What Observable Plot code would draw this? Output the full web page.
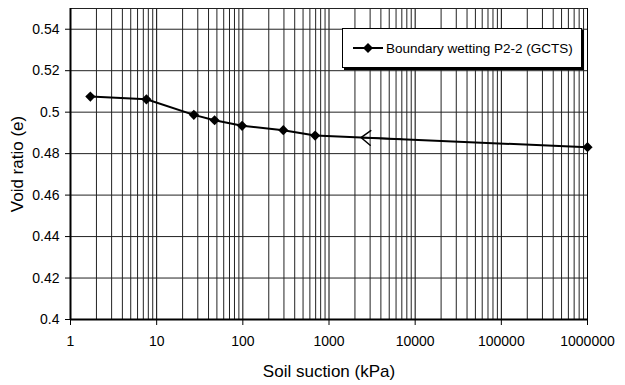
<!DOCTYPE html>
<html>
<head>
<meta charset="utf-8">
<script src="https://cdn.jsdelivr.net/npm/d3@7"></script>
<script src="https://cdn.jsdelivr.net/npm/@observablehq/plot@0.6"></script>
<style>
  html, body { margin: 0; padding: 0; background: #fff; }
  #wrap { position: relative; width: 625px; height: 385px; font-family: "Liberation Sans", Arial, sans-serif; }
  #legend {
    position: absolute; left: 342px; top: 28px; width: 238px; height: 38px;
    background: #fff; border: 1px solid #000;
    box-shadow: 2px 2px 0 #000;
    display: flex; align-items: center; font-size: 13.5px; color: #000;
    white-space: nowrap; overflow: hidden;
  }
  #legend svg { margin-left: 10px; margin-right: 3px; flex: none; }
</style>
</head>
<body>
<div id="wrap"></div>
<script>
// Data
const suction = [1.7, 7.6, 27, 47, 98, 295, 690, 1000000];
const voidRatio = [0.5075, 0.5062, 0.4987, 0.4961, 0.4934, 0.4913, 0.4887, 0.4831];
const seriesName = "Boundary wetting P2-2 (GCTS)";
// direction arrow on the line (from -> to)
const arrowFrom = {x: 7000, y: 0.48692};
const arrowTo = {x: 2350, y: 0.48776};

const xTicks = [1, 10, 100, 1000, 10000, 100000, 1000000];
const yTicks = [0.4, 0.42, 0.44, 0.46, 0.48, 0.5, 0.52, 0.54];

const data = suction.map((x, i) => ({x, y: voidRatio[i]}));
const xMinor = [];
for (let d = 1; d < 1e6; d *= 10) for (let k = 2; k <= 9; k++) xMinor.push(d * k);
const yGrid = [...yTicks, 0.55];

const chart = Plot.plot({
  width: 625,
  height: 385,
  marginLeft: 70,
  marginRight: 38,
  marginTop: 8,
  marginBottom: 66,
  style: {fontFamily: "Liberation Sans, Arial, sans-serif", fontSize: "14px", color: "#000", background: "#fff"},
  x: {type: "log", domain: [1, 1e6]},
  y: {domain: [0.4, 0.55]},
  marks: [
    Plot.ruleX(xMinor, {stroke: "#222", strokeWidth: 1}),
    Plot.ruleX(xTicks, {stroke: "#000", strokeWidth: 1}),
    Plot.ruleY(yGrid, {stroke: "#222", strokeWidth: 1}),
    Plot.ruleX([1], {stroke: "#000", strokeWidth: 2}),
    Plot.ruleY([0.4], {stroke: "#000", strokeWidth: 2}),
    Plot.axisX({ticks: xTicks, tickFormat: d => String(d), tickSize: 6, tickPadding: 11, fontSize: 14,
      label: "Soil suction (kPa)", labelAnchor: "center", labelArrow: "none", labelOffset: 57}),
    Plot.axisY({ticks: yTicks, tickFormat: d => String(+d.toFixed(2)), tickSize: 5, tickPadding: 6, fontSize: 14,
      label: "Void ratio (e)", labelAnchor: "center", labelArrow: "none", labelOffset: 60}),
    Plot.line(data, {x: "x", y: "y", stroke: "#000", strokeWidth: 2}),
    Plot.dot(data, {x: "x", y: "y", symbol: "diamond2", r: 4.6, fill: "#000", stroke: "none"}),
    Plot.arrow([{x1: arrowFrom.x, y1: arrowFrom.y, x2: arrowTo.x, y2: arrowTo.y}],
      {x1: "x1", y1: "y1", x2: "x2", y2: "y2", stroke: "#000", strokeWidth: 1.5, headLength: 12, headAngle: 75, insetEnd: 0})
  ]
});

chart.querySelectorAll("[aria-label='x-axis label'] text, [aria-label='y-axis label'] text").forEach(t => {
  t.setAttribute("font-size", "17px");
});

const wrap = document.getElementById("wrap");
wrap.appendChild(chart);

const legend = document.createElement("div");
legend.id = "legend";
legend.innerHTML = `<svg width="30" height="12"><line x1="0" y1="6" x2="30" y2="6" stroke="#000" stroke-width="2"/><path d="M15,1 L20,6 L15,11 L10,6 Z" fill="#000"/></svg><span>${seriesName}</span>`;
wrap.appendChild(legend);
</script>
</body>
</html>
